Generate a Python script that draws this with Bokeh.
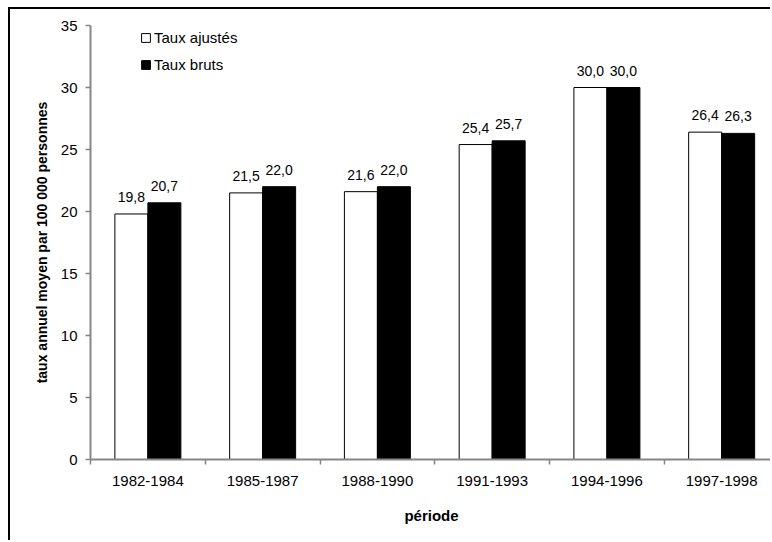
from bokeh.plotting import figure
from bokeh.models import (Range1d, FixedTicker, ColumnDataSource,
                          LabelSet, Legend, LegendItem)
from bokeh.core.properties import value
from bokeh.embed import file_html
from bokeh.resources import INLINE

periods = ["1982-1984", "1985-1987", "1988-1990", "1991-1993", "1994-1996", "1997-1998"]
ajustes = [19.8, 21.5, 21.6, 25.4, 30.0, 26.4]
bruts = [20.7, 22.0, 22.0, 25.7, 30.0, 26.3]
series_names = ["Taux ajustés", "Taux bruts"]
y_ticks = [0, 5, 10, 15, 20, 25, 30, 35]

FONT = "Liberation Sans"
AXIS_GRAY = "#868686"
BAR_W = 0.2875

centers = [i + 0.5 for i in range(len(periods))]
fmt = lambda v: f"{v:.1f}".replace(".", ",")

src_a = ColumnDataSource(dict(x=[c - BAR_W / 2 for c in centers], top=ajustes,
                              lab=[fmt(v) for v in ajustes]))
src_b = ColumnDataSource(dict(x=[c + BAR_W / 2 for c in centers], top=bruts,
                              lab=[fmt(v) for v in bruts]))

p = figure(width=762, height=533, output_backend="svg", toolbar_location=None,
           x_range=Range1d(0, 5.943), y_range=Range1d(0, 35),
           min_border_left=80, min_border_right=0, min_border_top=16, min_border_bottom=83)
p.styles = {"margin-left": "8px", "margin-top": "7px",
            "border-top": "2px solid black", "border-left": "2px solid black"}
p.outline_line_color = None
p.xgrid.visible = False
p.ygrid.visible = False
p.background_fill_color = "white"

ra = p.vbar(x="x", top="top", width=BAR_W, source=src_a, fill_color="white",
            line_color="black", line_width=1)
rb = p.vbar(x="x", top="top", width=BAR_W, source=src_b, fill_color="black",
            line_color="black", line_width=1)

for src in (src_a, src_b):
    p.add_layout(LabelSet(x="x", y="top", text="lab", source=src, y_offset=12,
                          text_align="center", text_baseline="alphabetic",
                          text_font=value(FONT), text_font_size=value("14px"),
                          text_color="black"))

# y axis
ya = p.yaxis[0]
ya.ticker = FixedTicker(ticks=y_ticks)
ya.axis_label = "taux annuel moyen par 100 000 personnes"
ya.axis_label_text_font = FONT
ya.axis_label_text_font_style = "bold"
ya.axis_label_text_font_size = "14px"
ya.axis_label_text_color = "black"
ya.axis_label_standoff = 8
ya.major_label_text_font = FONT
ya.major_label_text_font_size = "15px"
ya.major_label_text_color = "black"
ya.major_label_standoff = 8
ya.axis_line_color = AXIS_GRAY
ya.axis_line_width = 2
ya.major_tick_line_color = AXIS_GRAY
ya.major_tick_line_width = 1.5
ya.major_tick_out = 5
ya.major_tick_in = 0
ya.minor_tick_line_color = None

# x axis
xa = p.xaxis[0]
xa.ticker = FixedTicker(ticks=centers, minor_ticks=list(range(len(periods) + 1)))
xa.major_label_overrides = {c: lab for c, lab in zip(centers, periods)}
xa.axis_label = "période"
xa.axis_label_text_font = FONT
xa.axis_label_text_font_style = "bold"
xa.axis_label_text_font_size = "15px"
xa.axis_label_text_color = "black"
xa.axis_label_standoff = 18
xa.major_label_text_font = FONT
xa.major_label_text_font_size = "15px"
xa.major_label_text_color = "black"
xa.major_label_standoff = 11
xa.axis_line_color = AXIS_GRAY
xa.axis_line_width = 2
xa.major_tick_line_color = None
xa.major_tick_out = 0
xa.major_tick_in = 0
xa.minor_tick_line_color = AXIS_GRAY
xa.minor_tick_line_width = 1.5
xa.minor_tick_out = 5
xa.minor_tick_in = 0

legend = Legend(items=[LegendItem(label=series_names[0], renderers=[ra]),
                       LegendItem(label=series_names[1], renderers=[rb])],
                location=(50, 386), padding=0, margin=0, spacing=10,
                glyph_width=11, glyph_height=11, label_height=16, label_standoff=3,
                label_text_font=FONT, label_text_font_size="15px",
                label_text_color="black",
                border_line_color=None, background_fill_alpha=0)
p.add_layout(legend)

open("out.html", "w").write(file_html(p, INLINE))
